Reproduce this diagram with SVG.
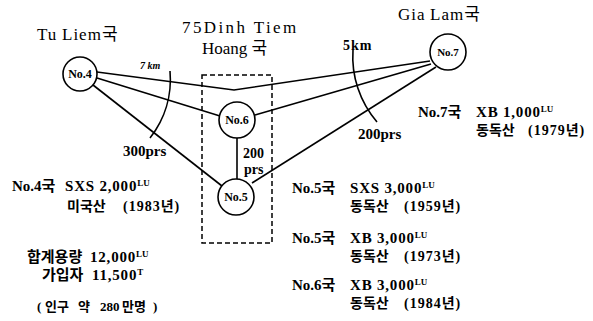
<svg xmlns="http://www.w3.org/2000/svg" width="593" height="321" viewBox="0 0 593 321">
<style>
text{font-family:"Liberation Serif","Noto Sans CJK KR",serif;fill:#000}
.title{font-size:17px}
.nl{font-size:12px;font-weight:bold;text-anchor:middle}
.lb{font-size:15px;font-weight:bold}
.num{font-size:15px;font-weight:bold;letter-spacing:0.8px}
.sm{font-size:14px;font-weight:bold}
.yr{font-size:14px;font-weight:bold;letter-spacing:1px}
.sup{font-size:9px;letter-spacing:0}
.node{fill:#fff;stroke:#000;stroke-width:1.6}
.c{fill:none;stroke:#000;stroke-width:1.6}
</style>
<rect width="593" height="321" fill="#fff"/>
<g id="connectors">
<polyline class="c" points="97,72 234,90 430,61"/>
<line class="c" x1="97" y1="78" x2="220" y2="116"/>
<line class="c" x1="93" y1="85" x2="222" y2="186"/>
<line class="c" x1="255" y1="115" x2="431" y2="64"/>
<line class="c" x1="252" y1="183" x2="436" y2="67"/>
<line class="c" x1="237" y1="138" x2="237" y2="179"/>
<path class="c" d="M170,71 A95,95 0 0 1 150,138"/>
<path class="c" d="M353,50 A100,100 0 0 0 377,122"/>
</g>
<rect id="area" x="202" y="75" width="70" height="168" fill="none" stroke="#000" stroke-width="1.5" stroke-dasharray="5,3"/>
<g id="n4"><circle class="node" cx="80" cy="74" r="17"/><text class="nl" x="80" y="78">No.4</text></g>
<g id="n6"><circle class="node" cx="237" cy="120" r="18"/><text class="nl" x="237" y="124">No.6</text></g>
<g id="n5"><circle class="node" cx="236" cy="197" r="18"/><text class="nl" x="236" y="201">No.5</text></g>
<g id="n7"><circle class="node" cx="448" cy="52" r="18"/><text class="nl" x="448" y="56" style="font-size:11px">No.7</text></g>
<g id="labels">
<text class="title" x="37" y="40" style="letter-spacing:1px">Tu<tspan x="62">Liem국</tspan></text>
<text class="title" x="182" y="33" style="letter-spacing:2.4px">75Dinh Tiem</text>
<text class="title" x="202" y="54">Hoang 국</text>
<text class="title" x="398" y="20" style="letter-spacing:1px">Gia<tspan x="430">Lam국</tspan></text>
<text x="140" y="69" style="font-size:10px;font-weight:bold;font-style:italic">7 km</text>
<text x="343" y="50" style="font-size:14px;font-weight:bold;letter-spacing:1px">5km</text>
<text class="lb" x="123" y="156">300prs</text>
<text class="lb" x="358" y="139">200prs</text>
<text class="lb" x="243" y="158" style="font-size:14px">200</text>
<text class="lb" x="244" y="174" style="font-size:14px">prs</text>
<text class="lb" x="418" y="117">No.7국</text>
<text class="num" x="476" y="117">XB 1,000<tspan class="sup" dy="-5">LU</tspan></text>
<text class="sm" x="476" y="135">동독산</text>
<text class="yr" x="528" y="135">(1979년)</text>
<text class="lb" x="12" y="191">No.4국</text>
<text class="num" x="65" y="191">SXS 2,000<tspan class="sup" dy="-5">LU</tspan></text>
<text class="sm" x="67" y="211">미국산</text>
<text class="yr" x="123" y="211">(1983년)</text>
<text class="lb" x="27" y="262">합계용량</text>
<text class="num" x="90" y="262">12,000<tspan class="sup" dy="-5">LU</tspan></text>
<text class="lb" x="42" y="280">가입자</text>
<text class="num" x="92" y="280">11,500<tspan class="sup" dy="-5">T</tspan></text>
<g id="pop" style="font-size:13px;font-weight:bold">
<text x="37" y="311">(</text>
<text x="45" y="311">인구</text>
<text x="78" y="311">약</text>
<text x="100" y="311">280</text>
<text x="122" y="311">만명</text>
<text x="153" y="311">)</text>
</g>
<text class="lb" x="292" y="193">No.5국</text>
<text class="num" x="350" y="193">SXS 3,000<tspan class="sup" dy="-5">LU</tspan></text>
<text class="sm" x="350" y="211">동독산</text>
<text class="yr" x="404" y="211">(1959년)</text>
<text class="lb" x="292" y="243">No.5국</text>
<text class="num" x="350" y="243">XB 3,000<tspan class="sup" dy="-5">LU</tspan></text>
<text class="sm" x="350" y="261">동독산</text>
<text class="yr" x="404" y="261">(1973년)</text>
<text class="lb" x="292" y="290">No.6국</text>
<text class="num" x="350" y="290">XB 3,000<tspan class="sup" dy="-5">LU</tspan></text>
<text class="sm" x="350" y="308">동독산</text>
<text class="yr" x="404" y="308">(1984년)</text>
</g>
</svg>
